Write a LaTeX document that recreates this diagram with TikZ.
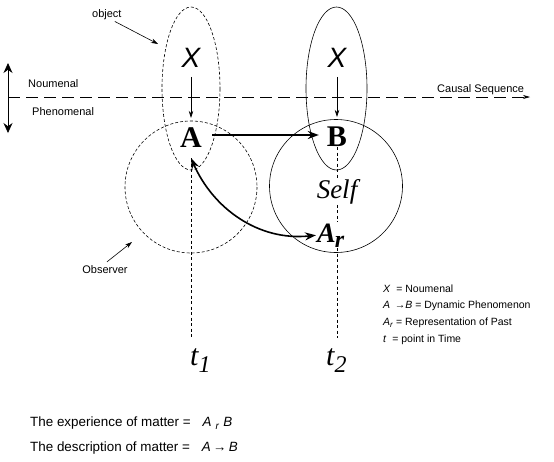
\documentclass[tikz,border=0pt]{standalone}
\usepackage{fontspec}
\setmainfont{Liberation Serif}
\setsansfont{Liberation Sans}
\usetikzlibrary{arrows.meta}
\begin{document}
\begin{tikzpicture}[x=1pt,y=-1pt,
  lab/.style={font=\sffamily\fontsize{11}{13}\selectfont, inner sep=0pt},
  leg/.style={font=\sffamily\fontsize{10.5}{12}\selectfont, inner sep=0pt, anchor=base west},
  bot/.style={font=\sffamily\fontsize{13.4}{15}\selectfont, inner sep=0pt, anchor=base west},
  bigX/.style={font=\sffamily\itshape\fontsize{28}{30}\selectfont, inner sep=0pt},
  bigA/.style={font=\rmfamily\bfseries\fontsize{30}{32}\selectfont, inner sep=0pt},
  selfst/.style={font=\rmfamily\itshape\fontsize{27}{30}\selectfont, inner sep=1pt},
  arst/.style={font=\rmfamily\bfseries\itshape\fontsize{28}{30}\selectfont, inner sep=1pt},
  tst/.style={font=\rmfamily\itshape\fontsize{30}{32}\selectfont, inner sep=0pt},
  smalldash/.style={line width=0.6pt, dash pattern=on 3pt off 2pt},
  solidthin/.style={line width=0.6pt},
  thinarrow/.style={line width=0.6pt, -{Stealth[length=7pt,width=4.5pt]}},
  thickarrow/.style={line width=1.6pt, -{Stealth[length=11pt,width=8pt]}},
  dblcurve/.style={line width=1.6pt, {Stealth[length=11pt,width=8pt]}-{Stealth[length=11pt,width=8pt]}},
  vdash/.style={line width=0.6pt, dash pattern=on 3pt off 2.5pt},
]
\useasboundingbox (0,0) rectangle (554,461);

% ellipses and circles
\draw[smalldash] (191,88.5) ellipse [x radius=29, y radius=81.5];
\draw[solidthin] (336.5,88.5) ellipse [x radius=30.5, y radius=81.5];
\draw[smalldash] (191,187) circle [radius=66];
\draw[solidthin] (336,186) circle [radius=66.5];

% noumenal / phenomenal divider
\coordinate (vt) at (8,63);
\coordinate (vb) at (8,133);
\coordinate (hl) at (8,97);
\coordinate (hr) at (530,97);
\draw[line width=0.8pt, {Stealth[length=10pt,width=9pt]}-{Stealth[length=10pt,width=9pt]}] (vt) -- (vb);
\draw[line width=0.6pt, dash pattern=on 12pt off 6pt, -{Stealth[length=7pt,width=4pt]}] (hl) -- (hr);

\node[lab, anchor=base west] (noum) at (28,87) {Noumenal};
\node[lab, anchor=base west] (phen) at (32,115) {Phenomenal};
\node[lab, anchor=base west] (causal) at (437,92) {Causal Sequence};

% object / observer labels
\node[lab, anchor=base west] (obj) at (92,17) {object};
\coordinate (objtip) at (158,44);
\draw[thinarrow] ([xshift=8pt,yshift=-2pt]obj.south) -- (objtip);
\node[lab, anchor=base] (obs) at (105,273) {Observer};
\coordinate (obstip) at (132,242);
\draw[thinarrow] ([xshift=2pt,yshift=3pt]obs.north) -- (obstip);

% main nodes
\node[bigX] (X1) at (191,58) {X};
\node[bigX] (X2) at (337,58) {X};
\node[bigA] (A) at (191,138) {A};
\node[bigA] (B) at (337,137) {B};
\node[selfst, anchor=base] (Self) at (337,198) {Self};
\node[arst, anchor=base west] (Ar) at (316,242) {A\kern-1pt\raisebox{-5pt}{\fontsize{24}{24}\selectfont r}};
\node[tst, anchor=base west] (t1) at (190,365) {t\raisebox{-7pt}{\fontsize{24}{24}\selectfont 1}};
\node[tst, anchor=base west] (t2) at (326,365) {t\raisebox{-7pt}{\fontsize{24}{24}\selectfont 2}};

\coordinate (a2) at (191,338);
\coordinate (b2) at (337,338);

% time lines
\draw[vdash] ([yshift=-10pt]A.south) -- (a2);
\draw[vdash] (B.south) -- (B.south |- Self.north);
\draw[vdash] (Self.south) -- (Self.south |- Ar.north);
\draw[vdash] (Self.south |- Ar.south) -- (b2);

% arrows
\draw[thinarrow] ([yshift=-9pt]X1.south) -- ([yshift=10pt]A.north);
\draw[thinarrow] ([yshift=-9pt]X2.south) -- ([yshift=10pt]B.north);
\draw[thickarrow] ([xshift=10pt,yshift=3pt]A.east) -- ([xshift=-8pt,yshift=2pt]B.west);
\draw[dblcurve] ([yshift=-10pt]A.south) .. controls +(22,50) and +(-58,6) .. (Ar.west);

% legend
\node[leg] (l1) at (383,292) {\textit{X}\ \ = Noumenal};
\node[leg] (l2) at (383,308) {\textit{A}\ \,→\textit{B} = Dynamic Phenomenon};
\node[leg] (l3) at (383,325) {\textit{A}\raisebox{-2pt}{\fontsize{8}{8}\selectfont\textit{r}} = Representation of Past};
\node[leg] (l4) at (383,342) {\textit{t}\ \ = point in Time};

% bottom statements
\node[bot] (e1) at (30,426) {The experience of matter =\hspace{12pt}\textit{A}\hspace{4pt}\raisebox{-3pt}{\fontsize{10}{10}\selectfont\textit{r}}\hspace{4pt}\textit{B}};
\node[bot] (e2) at (30,451) {The description of matter =\hspace{12pt}\textit{A}\,→\,\textit{B}};
\end{tikzpicture}
\end{document}
